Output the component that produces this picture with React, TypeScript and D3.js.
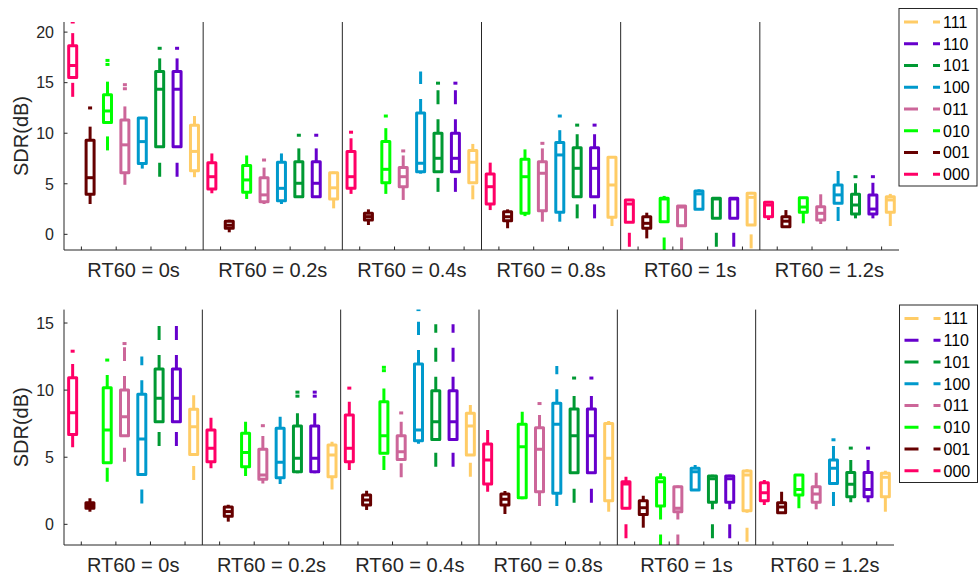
import React from 'react';
import * as d3 from 'd3';

const conditions = ['000', '001', '010', '011', '100', '101', '110', '111'];
const conditionColors = ['#FF0066', '#660000', '#00FF00', '#CC6699', '#0099CC', '#009933', '#6600CC', '#FFCC66'];
const rtLabels = ['RT60 = 0s', 'RT60 = 0.2s', 'RT60 = 0.4s', 'RT60 = 0.8s', 'RT60 = 1s', 'RT60 = 1.2s'];
const topTicks = [0, 5, 10, 15, 20];
const bottomTicks = [0, 5, 10, 15];

// Top panel: 6 RT60 groups x 8 conditions (group-major)
const topLow = [
  13.6, 3.0, 8.3, 4.9, 6.5, 5.7, 5.7, 5.65,
  4.06, 0.2, 3.5, 3.0, 3.0, 3.6, 3.6, 2.57,
  4.0, 0.92, 4.0, 3.4, 6.0, 4.2, 4.2, 3.46,
  2.4, 0.6, 1.8, 1.25, 1.25, 1.58, 1.58, 0.82,
  -1.23, -0.4, -1.7, -1.7, 2.4, -1.23, -1.23, -1.39,
  1.42, 0.66, 1.09, 1.02, 1.32, 1.58, 1.58, 0.82,
];
const topQ1 = [
  15.5, 3.96, 11.05, 6.1, 7.0, 8.67, 8.67, 6.3,
  4.49, 0.6, 4.16, 3.23, 3.33, 3.72, 3.72, 3.5,
  4.55, 1.42, 5.11, 4.7, 6.2, 6.2, 6.2, 5.1,
  3.0, 1.35, 2.08, 2.34, 2.18, 3.72, 3.72, 1.68,
  1.19, 0.6, 1.25, 0.85, 2.47, 1.58, 1.58, 0.92,
  1.74, 0.75, 2.18, 1.42, 3.07, 2.01, 2.0, 2.18,
];
const topMedian = [
  16.7, 5.6, 12.2, 8.85, 9.17, 14.35, 14.35, 8.2,
  5.7, 0.9, 5.38, 3.9, 4.55, 5.05, 5.05, 4.6,
  5.7, 1.75, 6.43, 5.7, 7.03, 7.52, 7.52, 7.13,
  4.71, 1.74, 5.7, 6.04, 7.85, 6.53, 6.53, 4.88,
  3.0, 1.09, 3.5, 2.7, 4.0, 3.5, 3.5, 3.66,
  2.9, 1.3, 2.7, 2.08, 3.9, 2.9, 2.5, 3.4,
];
const topQ3 = [
  18.65, 9.3, 13.8, 11.3, 11.5, 16.1, 16.1, 10.8,
  7.09, 1.3, 6.8, 5.6, 7.13, 7.19, 7.19, 6.1,
  8.18, 2.08, 9.17, 6.6, 12.0, 10.0, 10.0, 8.28,
  5.97, 2.24, 7.43, 7.19, 9.07, 8.57, 8.57, 7.62,
  3.4, 1.74, 3.56, 2.8, 4.29, 3.56, 3.56, 4.06,
  3.17, 1.74, 3.62, 2.73, 4.88, 3.96, 3.9, 3.72,
];
const topHigh = [
  19.9, 10.65, 15.1, 12.65, 11.5, 17.4, 17.4, 11.7,
  8.0, 1.45, 7.8, 6.6, 8.0, 8.5, 8.5, 6.2,
  9.5, 2.47, 10.5, 7.8, 16.1, 14.3, 14.3, 8.94,
  7.09, 2.47, 8.4, 8.5, 10.3, 9.9, 9.9, 7.7,
  3.5, 2.14, 3.8, 2.85, 4.45, 3.67, 3.67, 4.2,
  3.3, 2.4, 3.7, 3.96, 6.37, 5.05, 5.1, 4.0,
];
const topOutliers: [number, number][] = [
  [0, 21.0], [1, 12.5], [2, 17.2], [2, 16.8], [3, 14.8], [3, 14.4], [5, 18.4], [6, 18.4],
  [11, 7.35], [13, 9.8], [14, 9.8],
  [16, 10.1], [18, 11.7], [19, 8.25], [21, 14.95], [22, 14.95],
  [27, 9.0], [28, 11.7], [29, 10.8], [30, 10.8],
  [45, 5.7], [46, 5.7],
];

// Bottom panel
const bottomLow = [
  5.74, 0.94, 3.18, 4.67, 1.56, 5.83, 5.83, 3.3,
  4.17, 0.2, 3.6, 3.05, 3.0, 3.8, 3.8, 2.6,
  4.05, 1.07, 4.05, 3.5, 6.0, 4.29, 4.29, 3.55,
  2.43, 0.77, 1.86, 1.36, 1.36, 1.61, 1.61, 0.94,
  -1.04, -0.25, -1.8, -1.8, 2.5, -1.04, -1.04, -1.3,
  1.44, 0.77, 1.19, 1.12, 1.36, 1.64, 1.64, 0.94,
];
const bottomQ1 = [
  6.7, 1.2, 4.59, 6.6, 3.72, 7.65, 7.65, 5.2,
  4.67, 0.6, 4.29, 3.35, 3.47, 3.92, 3.92, 3.55,
  4.67, 1.44, 5.29, 4.84, 6.23, 6.33, 6.33, 5.16,
  3.0, 1.44, 1.98, 2.43, 2.31, 3.85, 3.85, 1.76,
  1.19, 0.74, 1.36, 0.94, 2.56, 1.64, 1.64, 1.01,
  1.76, 0.86, 2.18, 1.64, 3.05, 2.06, 2.06, 2.06,
];
const bottomMedian = [
  8.32, 1.4, 7.03, 8.02, 6.36, 9.39, 9.39, 7.27,
  5.66, 0.95, 5.36, 3.67, 4.62, 4.92, 4.92, 5.16,
  5.66, 1.81, 6.6, 5.41, 7.03, 7.65, 7.65, 7.32,
  4.79, 1.86, 5.78, 5.59, 7.45, 6.6, 6.6, 4.92,
  3.0, 1.24, 3.17, 1.19, 3.92, 3.4, 3.4, 3.67,
  2.36, 1.3, 2.6, 2.26, 4.17, 2.98, 2.6, 3.5,
];
const bottomQ3 = [
  10.93, 1.6, 10.18, 10.0, 9.69, 11.57, 11.57, 8.57,
  7.03, 1.3, 6.78, 5.59, 7.15, 7.32, 7.32, 5.91,
  8.14, 2.18, 9.14, 6.6, 11.95, 9.96, 9.96, 8.27,
  5.98, 2.26, 7.45, 7.2, 9.02, 8.59, 8.59, 7.52,
  3.17, 1.76, 3.47, 2.8, 4.17, 3.6, 3.6, 3.97,
  3.1, 1.61, 3.67, 2.8, 4.79, 3.87, 3.87, 3.8,
];
const bottomHigh = [
  11.95, 1.94, 11.13, 13.2, 12.5, 15.05, 15.05, 9.88,
  7.95, 1.45, 7.65, 6.58, 8.02, 8.27, 8.27, 6.15,
  9.14, 2.5, 10.13, 7.65, 15.1, 14.9, 14.9, 8.89,
  7.08, 2.48, 8.39, 8.14, 11.8, 9.56, 9.56, 7.7,
  3.55, 2.13, 3.8, 2.9, 4.42, 3.7, 3.7, 4.1,
  3.3, 2.43, 3.7, 3.92, 5.9, 4.79, 4.79, 4.0,
];
const bottomOutliers: [number, number][] = [
  [0, 12.9], [2, 12.24], [3, 13.47],
  [11, 7.35], [13, 9.85], [13, 9.55], [14, 9.85], [14, 9.55],
  [16, 10.15], [18, 11.7], [18, 11.45], [19, 8.3], [20, 16.0],
  [27, 9.0], [29, 10.9], [30, 10.9],
  [44, 6.3], [45, 5.68], [46, 5.68],
];

const FONT = '"Liberation Sans", Arial, Helvetica, sans-serif';
const AXIS = '#262626';
const DASH = '14 15';

type PanelDef = {
  id: string;
  left: number; right: number; top: number; bottom: number;
  domain: [number, number];
  ticks: number[];
  low: number[]; q1: number[]; median: number[]; q3: number[]; high: number[];
  outliers: [number, number][];
  legendX: number; legendY: number; legendW: number; legendH: number;
};

const panels: PanelDef[] = [
  {
    id: 'top', left: 64, right: 899, top: 22, bottom: 250, domain: [-1.55, 21], ticks: topTicks,
    low: topLow, q1: topQ1, median: topMedian, q3: topQ3, high: topHigh, outliers: topOutliers,
    legendX: 899, legendY: 8.5, legendW: 78, legendH: 177.5,
  },
  {
    id: 'bottom', left: 64, right: 894, top: 309.6, bottom: 545, domain: [-1.54, 16], ticks: bottomTicks,
    low: bottomLow, q1: bottomQ1, median: bottomMedian, q3: bottomQ3, high: bottomHigh, outliers: bottomOutliers,
    legendX: 899.5, legendY: 305, legendW: 78, legendH: 177.5,
  },
];

function Panel({ p }: { p: PanelDef }) {
  const nSlots = rtLabels.length * conditions.length;
  const x = d3.scaleLinear().domain([0, nSlots]).range([p.left, p.right]);
  const y = d3.scaleLinear().domain(p.domain).range([p.bottom, p.top]);
  const halfW = 4;
  const clipId = 'clip-' + p.id;
  const boxes = d3.range(nSlots);
  const separators = d3.range(1, rtLabels.length).map((g) => g * conditions.length);
  const xTicks = d3.range(1, nSlots, 2);
  const legendOrder = conditions.map((_, i) => i).reverse();
  const rowH = 21.75;

  return (
    <g>
      <defs>
        <clipPath id={clipId}>
          <rect x={p.left} y={p.top} width={p.right - p.left} height={p.bottom - p.top} />
        </clipPath>
      </defs>
      {/* separators */}
      {separators.map((s) => (
        <line key={'sep' + s} x1={x(s)} x2={x(s)} y1={p.top} y2={p.bottom} stroke={AXIS} strokeWidth={1} />
      ))}
      {/* boxes */}
      <g clipPath={`url(#${clipId})`}>
        {boxes.map((i) => {
          const c = i % conditions.length;
          const color = conditionColors[c];
          const cx = x(i + 0.5);
          return (
            <g key={'b' + i} stroke={color} fill="none" strokeWidth={3}>
              <line x1={cx} x2={cx} y1={y(p.low[i])} y2={y(p.q1[i])} strokeDasharray={DASH} />
              <line x1={cx} x2={cx} y1={y(p.q3[i])} y2={y(p.high[i])} strokeDasharray={DASH} />
              <rect x={cx - halfW} y={y(p.q3[i])} width={halfW * 2} height={Math.max(0.5, y(p.q1[i]) - y(p.q3[i]))} strokeLinejoin="round" />
              <line x1={cx - halfW} x2={cx + halfW} y1={y(p.median[i])} y2={y(p.median[i])} />
            </g>
          );
        })}
        {p.outliers.map(([i, v], k) => {
          const c = i % conditions.length;
          const cx = x(i + 0.5);
          return (
            <rect key={'o' + k} x={cx - 2} y={y(v) - 1.5} width={4} height={3} fill={conditionColors[c]} />
          );
        })}
      </g>
      {/* axes */}
      <line x1={p.left} x2={p.left} y1={p.top} y2={p.bottom} stroke={AXIS} strokeWidth={1} />
      <line x1={p.left} x2={p.right} y1={p.bottom} y2={p.bottom} stroke={AXIS} strokeWidth={1} />
      {p.ticks.map((t) => (
        <g key={'yt' + t}>
          <line x1={p.left} x2={p.left + 3.5} y1={y(t)} y2={y(t)} stroke={AXIS} strokeWidth={1} />
          <text x={p.left - 10} y={y(t)} dy="0.36em" textAnchor="end" fontSize={16} fill={AXIS} fontFamily={FONT}>
            {t}
          </text>
        </g>
      ))}
      {xTicks.map((t) => (
        <line key={'xt' + t} x1={x(t)} x2={x(t)} y1={p.bottom} y2={p.bottom - 3.5} stroke={AXIS} strokeWidth={1} />
      ))}
      {rtLabels.map((lab, g) => (
        <text key={'gl' + g} x={x((g + 0.5) * conditions.length)} y={p.bottom + 27} textAnchor="middle" fontSize={20} fill={AXIS} fontFamily={FONT}>
          {lab}
        </text>
      ))}
      <text transform={`translate(28,${(p.top + p.bottom) / 2}) rotate(-90)`} textAnchor="middle" fontSize={20} fill={AXIS} fontFamily={FONT}>
        SDR(dB)
      </text>
      {/* legend */}
      <rect x={p.legendX} y={p.legendY} width={p.legendW} height={p.legendH} fill="#fff" stroke={AXIS} strokeWidth={1} />
      {legendOrder.map((c, r) => {
        const ly = p.legendY + 13.5 + r * rowH;
        return (
          <g key={'lg' + c}>
            <line x1={p.legendX + 5} x2={p.legendX + 41} y1={ly} y2={ly} stroke={conditionColors[c]} strokeWidth={3} strokeDasharray={DASH} />
            <text x={p.legendX + 44} y={ly} dy="0.36em" fontSize={16} fill="#000" fontFamily={FONT}>
              {conditions[c]}
            </text>
          </g>
        );
      })}
    </g>
  );
}

export default function App() {
  return (
    <svg width={978} height={579} style={{ position: 'absolute', left: 0, top: 0, background: '#fff' }}>
      <rect x={0} y={0} width={978} height={579} fill="#fff" />
      {panels.map((p) => (
        <Panel key={p.id} p={p} />
      ))}
    </svg>
  );
}
